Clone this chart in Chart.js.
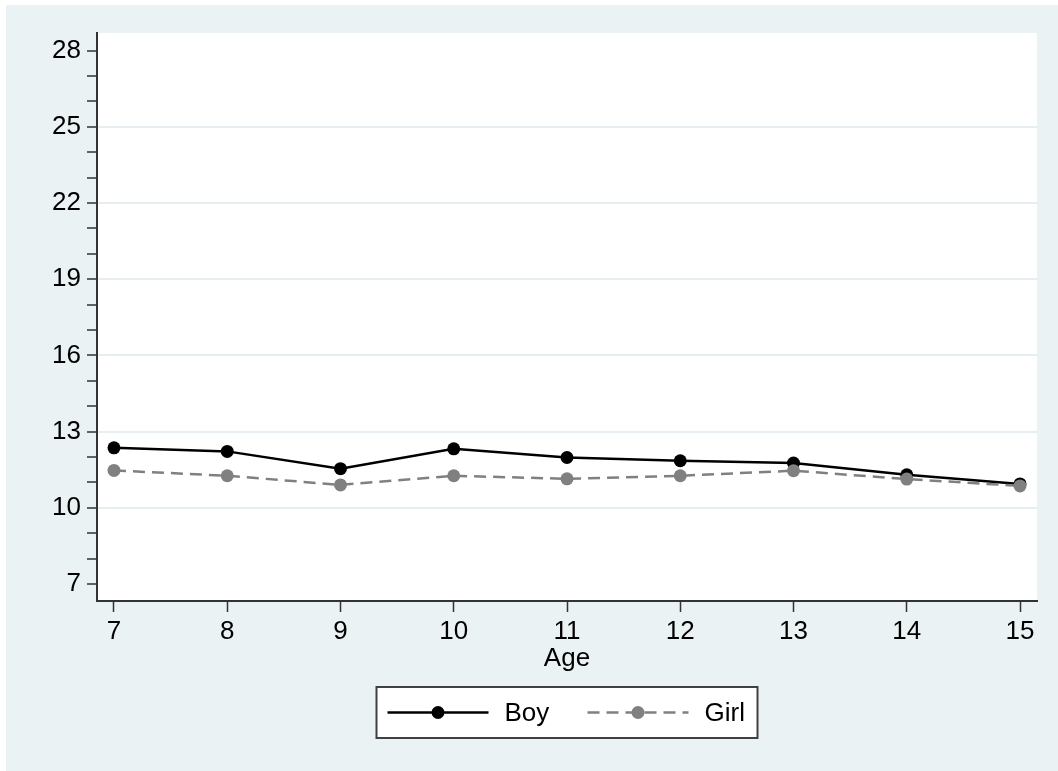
<!DOCTYPE html>
<html>
<head>
<meta charset="utf-8">
<script src="https://cdn.jsdelivr.net/npm/chart.js@4/dist/chart.umd.min.js"></script>
<style>
  html, body { margin: 0; padding: 0; background: #fff; }
  #chart { display: block; }
</style>
</head>
<body>
<canvas id="chart" width="1058" height="771"></canvas>
<script>
// 데이터
const ages = [7, 8, 9, 10, 11, 12, 13, 14, 15];
const boyValues = [12.36, 12.22, 11.54, 12.32, 11.98, 11.85, 11.76, 11.30, 10.94];
const girlValues = [11.47, 11.26, 10.90, 11.26, 11.14, 11.26, 11.46, 11.13, 10.86];
const yTickLabels = [7, 10, 13, 16, 19, 22, 25, 28];
const yGridValues = [10, 13, 16, 19, 22, 25];
const seriesNames = ['Boy', 'Girl'];

const FONT = '"Liberation Sans", Arial, Helvetica, sans-serif';
const AXIS = '#333333';
const BG = '#EAF2F3';

// 배경 + 범례 그리기
const stataLook = {
    id: 'stataLook',
    beforeDraw(chart) {
        const ctx = chart.ctx;
        const a = chart.chartArea;
        ctx.save();
        ctx.fillStyle = '#ffffff';
        ctx.fillRect(0, 0, chart.width, chart.height);
        ctx.fillStyle = BG;
        ctx.fillRect(6, 5, chart.width - 6, chart.height - 5);
        ctx.fillStyle = '#ffffff';
        ctx.fillRect(a.left, a.top, a.right - a.left, a.bottom - a.top);
        ctx.restore();
    },
    afterDraw(chart) {
        const ctx = chart.ctx;
        const a = chart.chartArea;
        const boxW = 381, boxH = 51;
        const cx = (a.left + a.right) / 2;
        const left = cx - boxW / 2;
        const top = 687;
        const midY = top + boxH / 2;
        ctx.save();
        ctx.fillStyle = '#ffffff';
        ctx.fillRect(left, top, boxW, boxH);
        ctx.strokeStyle = '#404040';
        ctx.lineWidth = 2;
        ctx.strokeRect(left, top, boxW, boxH);

        chart.data.datasets.forEach((ds, i) => {
            const x0 = left + 11 + i * 200;
            const x1 = x0 + 101;
            ctx.strokeStyle = ds.borderColor;
            ctx.lineWidth = ds.borderWidth;
            ctx.setLineDash(ds.borderDash || []);
            ctx.beginPath();
            ctx.moveTo(x0, midY);
            ctx.lineTo(x1, midY);
            ctx.stroke();
            ctx.setLineDash([]);
            ctx.fillStyle = ds.pointBackgroundColor;
            ctx.beginPath();
            ctx.arc((x0 + x1) / 2, midY, ds.pointRadius, 0, Math.PI * 2);
            ctx.fill();
            ctx.fillStyle = '#000';
            ctx.font = '26px ' + FONT;
            ctx.textBaseline = 'middle';
            ctx.textAlign = 'left';
            ctx.fillText(ds.label, x1 + 16, midY + 1);
        });
        ctx.restore();
    }
};

new Chart(document.getElementById('chart'), {
    type: 'line',
    data: {
        datasets: [
            {
                label: seriesNames[0],
                data: ages.map((a, i) => ({ x: a, y: boyValues[i] })),
                borderColor: '#000000',
                backgroundColor: '#000000',
                pointBackgroundColor: '#000000',
                pointBorderWidth: 0,
                pointRadius: 6.5,
                borderWidth: 2.5,
                tension: 0,
                order: 1
            },
            {
                label: seriesNames[1],
                data: ages.map((a, i) => ({ x: a, y: girlValues[i] })),
                borderColor: '#808080',
                backgroundColor: '#808080',
                pointBackgroundColor: '#808080',
                pointBorderWidth: 0,
                pointRadius: 6.5,
                borderWidth: 2.5,
                borderDash: [12, 7],
                tension: 0,
                order: 0
            }
        ]
    },
    options: {
        responsive: false,
        animation: false,
        devicePixelRatio: 1,
        layout: { padding: { top: 33, right: 21, left: 0, bottom: 97 } },
        plugins: {
            legend: { display: false },
            tooltip: { enabled: false }
        },
        scales: {
            x: {
                type: 'linear',
                min: 6.85,
                max: 15.15,
                afterFit: (scale) => { scale.height = 73; },
                afterBuildTicks: (scale) => { scale.ticks = ages.map(v => ({ value: v })); },
                border: { color: AXIS, width: 2 },
                grid: {
                    drawOnChartArea: false,
                    tickLength: 11,
                    tickColor: AXIS,
                    tickWidth: 1.5
                },
                ticks: {
                    color: '#000',
                    font: { family: FONT, size: 26 },
                    padding: 4,
                    maxRotation: 0
                },
                title: {
                    display: true,
                    text: 'Age',
                    color: '#000',
                    font: { family: FONT, size: 26 },
                    padding: 0
                }
            },
            y: {
                min: 6.33,
                max: 28.69,
                afterFit: (scale) => { scale.width = 97; },
                afterBuildTicks: (scale) => {
                    const t = [];
                    for (let v = yTickLabels[0]; v <= yTickLabels[yTickLabels.length - 1]; v++) t.push({ value: v });
                    scale.ticks = t;
                },
                border: { color: AXIS, width: 2 },
                grid: {
                    color: (c) => yGridValues.includes(c.tick.value) ? '#E6EEF1' : 'rgba(0,0,0,0)',
                    lineWidth: 2,
                    tickLength: 10,
                    tickColor: AXIS,
                    tickWidth: 1.5
                },
                ticks: {
                    color: '#000',
                    font: { family: FONT, size: 26 },
                    padding: 6,
                    autoSkip: false,
                    callback: (v) => yTickLabels.includes(v) ? String(v) : ''
                }
            }
        }
    },
    plugins: [stataLook]
});
</script>
</body>
</html>
